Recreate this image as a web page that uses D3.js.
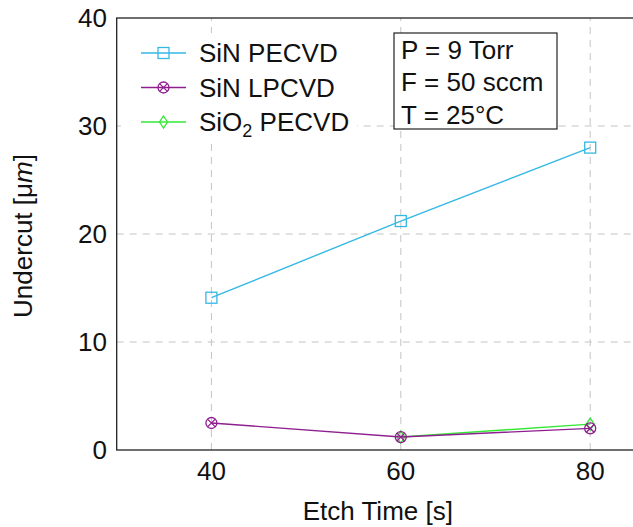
<!DOCTYPE html>
<html>
<head>
<meta charset="utf-8">
<script src="https://cdn.jsdelivr.net/npm/d3@7"></script>
<style>
  body { margin: 0; background: #fff; }
  text { font-family: "Liberation Sans", Arial, sans-serif; }
</style>
</head>
<body>
<div id="chart"></div>
<script>
var width = 633;
var height = 527;

// data
var etchTime = [40, 60, 80];
var sinPecvd = [14.1, 21.2, 28.0];
var sinLpcvd = [2.5, 1.2, 2.0];
var sio2Time = [60, 80];
var sio2Pecvd = [1.2, 2.4];
var xTicks = [40, 60, 80];
var yTicks = [0, 10, 20, 30, 40];
var conditions = ["P = 9 Torr", "F = 50 sccm", "T = 25\u00B0C"];

var cyan = "#35b8e6";
var violet = "#8e1f8e";
var green = "#36e836";

var svg = d3.select("#chart").append("svg")
    .attr("width", width)
    .attr("height", height);

var x = d3.scaleLinear().domain([30, 90]).range([116.7, 684.9]);
var y = d3.scaleLinear().domain([0, 40]).range([450, 18]);

// grid
svg.append("g").selectAll("line").data(xTicks).enter().append("line")
    .attr("x1", d => x(d)).attr("x2", d => x(d))
    .attr("y1", y(0)).attr("y2", y(40))
    .attr("stroke", "#c4c4c4").attr("stroke-width", 1)
    .attr("stroke-dasharray", "7,6");
svg.append("g").selectAll("line").data(yTicks.slice(1, 4)).enter().append("line")
    .attr("x1", x(30)).attr("x2", x(90))
    .attr("y1", d => y(d)).attr("y2", d => y(d))
    .attr("stroke", "#c4c4c4").attr("stroke-width", 1)
    .attr("stroke-dasharray", "7,6");

// frame
svg.append("rect")
    .attr("x", x(30)).attr("y", y(40))
    .attr("width", x(90) - x(30)).attr("height", y(0) - y(40))
    .attr("fill", "none").attr("stroke", "#222").attr("stroke-width", 1.3);

// tick labels
svg.append("g").selectAll("text").data(yTicks).enter().append("text")
    .attr("x", 107).attr("y", d => y(d) + 9)
    .attr("text-anchor", "end")
    .style("font-size", "26px").style("fill", "#111")
    .text(d => d);
svg.append("g").selectAll("text").data(xTicks).enter().append("text")
    .attr("x", d => x(d)).attr("y", 480)
    .attr("text-anchor", "middle")
    .style("font-size", "26px").style("fill", "#111")
    .text(d => d);

// axis titles
svg.append("text")
    .attr("x", x(60) - 23).attr("y", 520)
    .attr("text-anchor", "middle")
    .style("font-size", "26px").style("fill", "#111")
    .text("Etch Time [s]");
var yl = svg.append("text")
    .attr("transform", "translate(32,236) rotate(-90)")
    .attr("text-anchor", "middle")
    .style("font-size", "26px").style("fill", "#111");
yl.append("tspan").text("Undercut [\u03BC");
yl.append("tspan").style("font-style", "italic").text("m");
yl.append("tspan").text("]");

// markers
function squareMark(g, cx, cy, color) {
  g.append("rect")
      .attr("x", cx - 5.5).attr("y", cy - 5.5)
      .attr("width", 11).attr("height", 11)
      .attr("fill", "none").attr("stroke", color).attr("stroke-width", 1.3);
}
function otimesMark(g, cx, cy, color) {
  g.append("circle")
      .attr("cx", cx).attr("cy", cy).attr("r", 5.5)
      .attr("fill", "none").attr("stroke", color).attr("stroke-width", 1.3);
  var r = 5.5 * Math.SQRT1_2;
  g.append("path")
      .attr("d", "M" + (cx - r) + "," + (cy - r) + "L" + (cx + r) + "," + (cy + r) +
                 "M" + (cx - r) + "," + (cy + r) + "L" + (cx + r) + "," + (cy - r))
      .attr("stroke", color).attr("stroke-width", 1.3);
}
function diamondMark(g, cx, cy, color) {
  g.append("path")
      .attr("d", "M" + cx + "," + (cy - 6) + "L" + (cx + 4) + "," + cy +
                 "L" + cx + "," + (cy + 6) + "L" + (cx - 4) + "," + cy + "Z")
      .attr("fill", "none").attr("stroke", color).attr("stroke-width", 1.3);
}

var line = d3.line().x(d => x(d[0])).y(d => y(d[1]));

function series(xs, ys, color, mark) {
  var pts = d3.zip(xs, ys);
  var g = svg.append("g");
  g.append("path").datum(pts).attr("d", line)
      .attr("fill", "none").attr("stroke", color).attr("stroke-width", 1.4);
  pts.forEach(p => mark(g, x(p[0]), y(p[1]), color));
}

series(etchTime, sinPecvd, cyan, squareMark);
series(sio2Time, sio2Pecvd, green, diamondMark);
series(etchTime, sinLpcvd, violet, otimesMark);

// legend
var legend = svg.append("g");
legend.append("rect")
    .attr("x", 121).attr("y", 33).attr("width", 236).attr("height", 106)
    .attr("fill", "#fff");
var legendItems = [
  { color: cyan, mark: squareMark },
  { color: violet, mark: otimesMark },
  { color: green, mark: diamondMark }
];
legendItems.forEach(function (it, i) {
  var ly = 53 + i * 34.5;
  legend.append("line")
      .attr("x1", 141).attr("x2", 186).attr("y1", ly).attr("y2", ly)
      .attr("stroke", it.color).attr("stroke-width", 1.4);
  it.mark(legend, 163.5, ly, it.color);
});
var legendText = legend.selectAll("text.lab").data([0, 1, 2]).enter().append("text")
    .attr("class", "lab")
    .attr("x", 199).attr("y", d => 53 + d * 34.5 + 9)
    .style("font-size", "26px").style("fill", "#111");
legendText.filter(d => d === 0).text("SiN PECVD");
legendText.filter(d => d === 1).text("SiN LPCVD");
var t3 = legendText.filter(d => d === 2);
t3.append("tspan").text("SiO");
t3.append("tspan").attr("dy", 6).style("font-size", "18px").text("2");
t3.append("tspan").attr("dy", -6).text(" PECVD");

// conditions box
var box = svg.append("g");
box.append("rect")
    .attr("x", 394).attr("y", 33).attr("width", 163).attr("height", 96)
    .attr("fill", "#fff").attr("stroke", "#222").attr("stroke-width", 1.2);
box.selectAll("text").data(conditions).enter().append("text")
    .attr("x", 401).attr("y", (d, i) => 58.5 + i * 32.5)
    .style("font-size", "26px").style("fill", "#111")
    .text(d => d);
</script>
</body>
</html>
